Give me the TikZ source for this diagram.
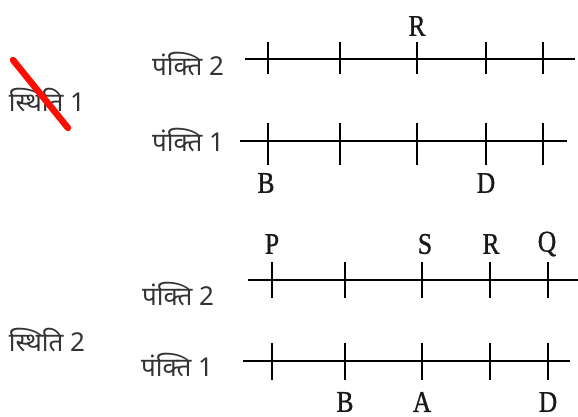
\documentclass[tikz,border=0pt]{standalone}
\usepackage{fontspec}
\newfontfamily\devfont[Script=Devanagari]{Noto Sans}
\newfontfamily\letfont[FakeStretch=0.85,FakeBold=1]{Liberation Serif}
\begin{document}
\begin{tikzpicture}[x=1pt,y=-1pt,
    axis/.style={line width=2.8pt},
    tickmark/.style={line width=2.8pt},
    rowlabel/.style={inner sep=0pt,text=black!80,font=\devfont\fontsize{26}{30}\selectfont},
    pointlabel/.style={inner sep=0pt,text=black!90,font=\letfont\fontsize{30}{32}\selectfont}]
\useasboundingbox (0,0) rectangle (578,417);
\node [rowlabel] (case1) at (47,100) {स्थिति 1};
\draw [red!90!orange,line width=6.5pt,line cap=round] (13,60) -- (68,128);
\node [rowlabel] (c1row2) at (188,64) {पंक्ति 2};
\node [rowlabel] (c1row1) at (188,140) {पंक्ति 1};
\draw [axis] (245,59) -- (575,59);
\draw [axis] (240,141) -- (567,141);
\foreach \x in {268,340,417,486,543} {
  \draw [tickmark] (\x,42) -- (\x,74);
  \draw [tickmark] (\x,123) -- (\x,165);
}
\node [pointlabel] (r1) at (417,26) {R};
\node [pointlabel] (b1) at (266,183) {B};
\node [pointlabel] (d1) at (486,183) {D};
\node [rowlabel] (case2) at (47,340) {स्थिति 2};
\node [rowlabel] (c2row2) at (178,294) {पंक्ति 2};
\node [rowlabel] (c2row1) at (177,365) {पंक्ति 1};
\draw [axis] (248,280) -- (578,280);
\draw [axis] (243,361) -- (570,361);
\foreach \x in {272,345,422,490,548} {
  \draw [tickmark] (\x,262) -- (\x,298);
  \draw [tickmark] (\x,343) -- (\x,380);
}
\node [pointlabel] (p2) at (272,244) {P};
\node [pointlabel] (s2) at (425,244) {S};
\node [pointlabel] (r2) at (491,244) {R};
\node [pointlabel] (q2) at (547,244) {Q};
\node [pointlabel] (b2) at (345,402) {B};
\node [pointlabel] (a2) at (422,402) {A};
\node [pointlabel] (d2) at (548,402) {D};
\end{tikzpicture}
\end{document}
